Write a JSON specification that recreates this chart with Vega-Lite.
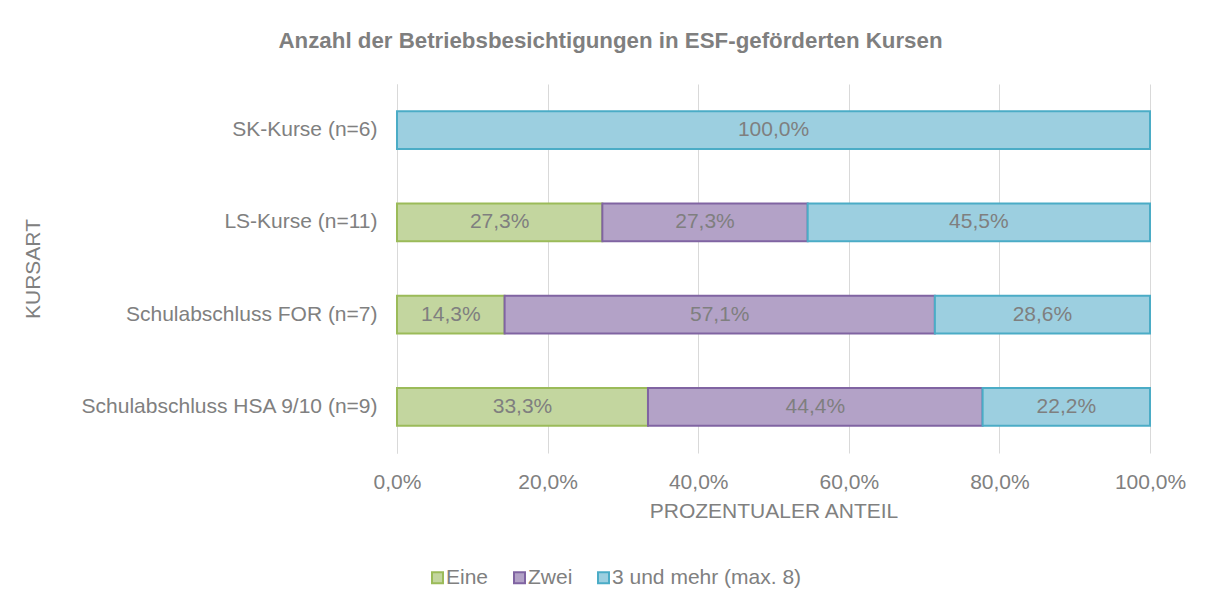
{
  "$schema": "https://vega.github.io/schema/vega-lite/v6.json",
  "width": 753,
  "height": 369,
  "autosize": {"type": "none"},
  "padding": {"left": 397, "top": 84, "right": 61, "bottom": 154},
  "background": "white",
  "config": {
    "locale": {"number": {"decimal": ",", "thousands": ".", "grouping": [3], "currency": ["", " €"]}},
    "font": "Liberation Sans",
    "view": {"stroke": null},
    "text": {"font": "Liberation Sans"}
  },
  "title": {
    "text": "Anzahl der Betriebsbesichtigungen in ESF-geförderten Kursen",
    "font": "Liberation Sans",
    "fontSize": 22.3,
    "fontWeight": "bold",
    "color": "#7f7f7f",
    "anchor": "middle",
    "frame": "group",
    "dx": -163,
    "offset": 14,
    "baseline": "alphabetic"
  },
  "data": {
    "values": [
      {"Kursart": "SK-Kurse (n=6)", "Kategorie": "3 und mehr (max. 8)", "ord": 3, "Anteil": 1.0},
      {"Kursart": "LS-Kurse (n=11)", "Kategorie": "Eine", "ord": 1, "Anteil": 0.2727},
      {"Kursart": "LS-Kurse (n=11)", "Kategorie": "Zwei", "ord": 2, "Anteil": 0.2727},
      {"Kursart": "LS-Kurse (n=11)", "Kategorie": "3 und mehr (max. 8)", "ord": 3, "Anteil": 0.4546},
      {"Kursart": "Schulabschluss FOR (n=7)", "Kategorie": "Eine", "ord": 1, "Anteil": 0.1429},
      {"Kursart": "Schulabschluss FOR (n=7)", "Kategorie": "Zwei", "ord": 2, "Anteil": 0.5714},
      {"Kursart": "Schulabschluss FOR (n=7)", "Kategorie": "3 und mehr (max. 8)", "ord": 3, "Anteil": 0.2857},
      {"Kursart": "Schulabschluss HSA 9/10 (n=9)", "Kategorie": "Eine", "ord": 1, "Anteil": 0.3333},
      {"Kursart": "Schulabschluss HSA 9/10 (n=9)", "Kategorie": "Zwei", "ord": 2, "Anteil": 0.4444},
      {"Kursart": "Schulabschluss HSA 9/10 (n=9)", "Kategorie": "3 und mehr (max. 8)", "ord": 3, "Anteil": 0.2223}
    ]
  },
  "transform": [
    {"stack": "Anteil", "groupby": ["Kursart"], "sort": [{"field": "ord", "order": "ascending"}], "as": ["x0", "x1"]},
    {"calculate": "(datum.x0 + datum.x1) / 2", "as": "xm"}
  ],
  "encoding": {
    "y": {
      "field": "Kursart",
      "type": "nominal",
      "sort": ["SK-Kurse (n=6)", "LS-Kurse (n=11)", "Schulabschluss FOR (n=7)", "Schulabschluss HSA 9/10 (n=9)"],
      "scale": {"paddingInner": 0.59, "paddingOuter": 0.295},
      "axis": {
        "title": "KURSART",
        "titleFont": "Liberation Sans",
        "titleFontSize": 21,
        "titleFontWeight": "normal",
        "titleColor": "#808080",
        "titleX": -364,
        "titleY": 184.5,
        "titleAngle": -90,
        "titleAlign": "center",
        "titleBaseline": "middle",
        "labelFont": "Liberation Sans",
        "labelFontSize": 21,
        "labelColor": "#808080",
        "labelPadding": 20,
        "labelLimit": 400,
        "ticks": false,
        "domain": true,
        "domainColor": "#d9d9d9",
        "domainWidth": 1
      }
    }
  },
  "layer": [
    {
      "mark": {"type": "bar", "strokeWidth": 2},
      "encoding": {
        "x": {
          "field": "x0",
          "type": "quantitative",
          "scale": {"domain": [0, 1], "nice": false},
          "axis": {
            "values": [0, 0.2, 0.4, 0.6, 0.8, 1],
            "format": ".1%",
            "title": "PROZENTUALER ANTEIL",
            "titleFont": "Liberation Sans",
            "titleFontSize": 21,
            "titleFontWeight": "normal",
            "titleColor": "#808080",
            "titlePadding": 8,
            "labelFont": "Liberation Sans",
            "labelFontSize": 21,
            "labelColor": "#808080",
            "labelPadding": 18,
            "labelFlush": false,
            "ticks": false,
            "domain": false,
            "grid": true,
            "gridColor": "#d9d9d9",
            "gridWidth": 1
          }
        },
        "x2": {"field": "x1"},
        "fill": {
          "field": "Kategorie",
          "type": "nominal",
          "sort": ["Eine", "Zwei", "3 und mehr (max. 8)"],
          "scale": {"domain": ["Eine", "Zwei", "3 und mehr (max. 8)"], "range": ["#c3d69f", "#b3a2c7", "#9ccfe0"]},
          "legend": {
            "title": null,
            "orient": "none",
            "direction": "horizontal",
            "legendX": 30,
            "legendY": 483,
            "symbolType": "square",
            "symbolSize": 121,
            "symbolStrokeWidth": 2,
            "labelFont": "Liberation Sans",
            "labelFontSize": 21,
            "labelColor": "#808080",
            "labelOffset": -2,
            "labelLimit": 400,
            "columnPadding": 20,
            "padding": 0
          }
        },
        "stroke": {
          "field": "Kategorie",
          "type": "nominal",
          "sort": ["Eine", "Zwei", "3 und mehr (max. 8)"],
          "scale": {"domain": ["Eine", "Zwei", "3 und mehr (max. 8)"], "range": ["#9bbb59", "#8064a2", "#4bacc6"]},
          "legend": null
        }
      }
    },
    {
      "mark": {"type": "text", "font": "Liberation Sans", "fontSize": 21, "color": "#7f7f7f", "align": "center", "baseline": "middle"},
      "encoding": {
        "x": {"field": "xm", "type": "quantitative"},
        "text": {"field": "Anteil", "type": "quantitative", "format": ".1%"}
      }
    }
  ]
}
